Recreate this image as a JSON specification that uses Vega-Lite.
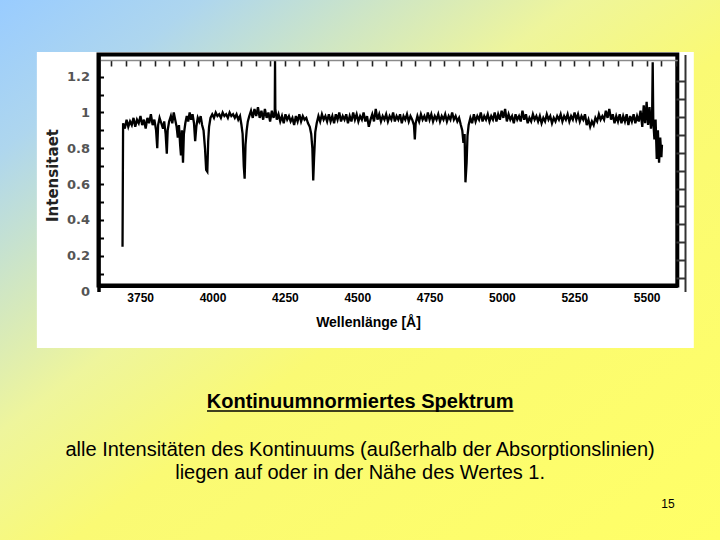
{
  "$schema": "https://vega.github.io/schema/vega-lite/v6.json",
  "width": 720,
  "height": 540,
  "padding": 0,
  "autosize": "none",
  "background": "#ffff66",
  "config": {"view": {"stroke": null}},
  "resolve": {"axis": {"x": "independent", "y": "independent"}},
  "layer": [
    {
      "data": {"values": [{}]},
      "mark": {"type": "rect", "strokeWidth": 0, "fill": {"gradient": "linear", "x1": 0, "y1": 0, "x2": 1, "y2": 1, "stops": [
        {"offset": 0, "color": "#99ccff"},
        {"offset": 0.14, "color": "#aed6ee"},
        {"offset": 0.27, "color": "#cfe6c4"},
        {"offset": 0.4, "color": "#eef59c"},
        {"offset": 0.55, "color": "#fafa74"},
        {"offset": 1, "color": "#ffff66"}
      ]}},
      "encoding": {
        "x": {"value": 0}, "x2": {"value": "width"},
        "y": {"value": 0}, "y2": {"value": "height"}
      }
    },
    {
      "data": {"values": [{}]},
      "mark": {"type": "rect", "fill": "#ffffff", "strokeWidth": 0},
      "encoding": {
        "x": {"datum": 3393, "type": "quantitative", "axis": null, "scale": {"domain": [3606, 5606], "range": [98.5, 677.3], "nice": false, "zero": false}},
        "x2": {"datum": 5663},
        "y": {"datum": 1.338, "type": "quantitative", "axis": null, "scale": {"domain": [0, 1.324], "range": [291.5, 54.5], "nice": false, "zero": false}},
        "y2": {"datum": -0.316}
      }
    },
    {
      "data": {"values": [{}]},
      "mark": {"type": "rect", "filled": false, "stroke": "#000000", "strokeWidth": 4},
      "encoding": {
        "x": {"datum": 3606, "type": "quantitative", "scale": {"domain": [3606, 5606], "range": [98.5, 677.3], "nice": false, "zero": false},
          "axis": {"orient": "top", "offset": -60, "zindex": 1, "title": null, "labels": false,
            "values": [3650,3700,3750,3800,3850,3900,3950,4000,4050,4100,4150,4200,4250,4300,4350,4400,4450,4500,4550,4600,4650,4700,4750,4800,4850,4900,4950,5000,5050,5100,5150,5200,5250,5300,5350,5400,5450,5500,5550,5600],
            "domainColor": "#8a8a8a", "domainWidth": 1.5, "tickColor": "#222222", "tickWidth": 1.6, "tickSize": -6}},
        "x2": {"datum": 5606},
        "y": {"datum": 0.0335, "type": "quantitative", "scale": {"domain": [0, 1.324], "range": [291.5, 54.5], "nice": false, "zero": false},
          "axis": {"orient": "right", "offset": -35, "zindex": 1, "title": null, "labels": false,
            "values": [0.075,0.175,0.275,0.375,0.475,0.575,0.675,0.775,0.875,0.975,1.075,1.175],
            "domainColor": "#333333", "domainWidth": 2, "tickColor": "#333333", "tickWidth": 2, "tickSize": -9}},
        "y2": {"datum": 1.324}
      }
    },
    {
      "data": {"values": [
        {"w":3689,"f":0.25},{"w":3691,"f":0.94},{"w":3697,"f":0.91},{"w":3703,"f":0.96},{"w":3709,"f":0.92},{"w":3715,"f":0.95},
        {"w":3721,"f":0.93},{"w":3727,"f":0.97},{"w":3733,"f":0.92},{"w":3739,"f":0.96},{"w":3745,"f":0.94},{"w":3751,"f":0.98},
        {"w":3757,"f":0.93},{"w":3763,"f":0.96},{"w":3769,"f":0.91},{"w":3775,"f":0.97},{"w":3781,"f":0.94},{"w":3787,"f":0.99},
        {"w":3793,"f":0.93},{"w":3799,"f":0.96},{"w":3805,"f":0.90},{"w":3809,"f":0.80},{"w":3812,"f":0.93},{"w":3817,"f":0.97},
        {"w":3823,"f":0.94},{"w":3829,"f":0.91},{"w":3833,"f":0.95},{"w":3838,"f":0.88},{"w":3842,"f":0.77},{"w":3845,"f":0.90},
        {"w":3850,"f":0.95},{"w":3856,"f":0.98},{"w":3861,"f":0.94},{"w":3866,"f":1.00},{"w":3871,"f":0.96},{"w":3876,"f":0.92},
        {"w":3880,"f":0.86},{"w":3884,"f":0.93},{"w":3888,"f":0.82},{"w":3891,"f":0.76},{"w":3894,"f":0.90},{"w":3898,"f":0.72},
        {"w":3901,"f":0.88},{"w":3906,"f":0.94},{"w":3911,"f":0.98},{"w":3916,"f":0.95},{"w":3921,"f":1.00},{"w":3926,"f":0.96},
        {"w":3931,"f":0.99},{"w":3936,"f":0.94},{"w":3940,"f":0.84},{"w":3944,"f":0.92},{"w":3949,"f":0.97},{"w":3954,"f":0.95},
        {"w":3959,"f":0.98},{"w":3964,"f":0.93},{"w":3969,"f":0.90},{"w":3974,"f":0.80},{"w":3978,"f":0.68},{"w":3982,"f":0.67},
        {"w":3985,"f":0.84},{"w":3988,"f":0.92},{"w":3993,"f":0.97},{"w":3999,"f":0.99},{"w":4005,"f":0.97},{"w":4011,"f":1.00},
        {"w":4017,"f":0.98},{"w":4023,"f":0.99},{"w":4029,"f":0.97},{"w":4035,"f":1.00},{"w":4041,"f":0.98},{"w":4047,"f":0.99},
        {"w":4053,"f":0.97},{"w":4059,"f":1.00},{"w":4065,"f":0.98},{"w":4071,"f":0.99},{"w":4077,"f":0.97},{"w":4083,"f":0.99},
        {"w":4089,"f":0.96},{"w":4095,"f":0.98},{"w":4100,"f":0.93},{"w":4104,"f":0.88},{"w":4108,"f":0.70},{"w":4111,"f":0.63},
        {"w":4114,"f":0.82},{"w":4118,"f":0.90},{"w":4122,"f":0.95},{"w":4127,"f":0.98},{"w":4133,"f":1.01},{"w":4139,"f":0.97},
        {"w":4145,"f":1.02},{"w":4151,"f":0.98},{"w":4157,"f":1.03},{"w":4163,"f":0.97},{"w":4169,"f":1.01},{"w":4175,"f":0.96},
        {"w":4181,"f":1.02},{"w":4187,"f":0.97},{"w":4193,"f":1.00},{"w":4199,"f":0.95},{"w":4205,"f":1.01},{"w":4211,"f":0.97},
        {"w":4215,"f":1.00},{"w":4216,"f":1.29},{"w":4217,"f":1.02},{"w":4222,"f":0.96},{"w":4228,"f":0.99},{"w":4234,"f":0.95},
        {"w":4240,"f":0.98},{"w":4246,"f":0.94},{"w":4252,"f":0.99},{"w":4258,"f":0.96},{"w":4264,"f":0.98},{"w":4270,"f":0.95},
        {"w":4276,"f":0.97},{"w":4282,"f":0.93},{"w":4288,"f":0.98},{"w":4294,"f":0.95},{"w":4300,"f":0.99},{"w":4306,"f":0.95},
        {"w":4312,"f":0.98},{"w":4318,"f":0.96},{"w":4324,"f":0.97},{"w":4330,"f":0.94},{"w":4336,"f":0.92},{"w":4341,"f":0.88},
        {"w":4345,"f":0.80},{"w":4348,"f":0.62},{"w":4351,"f":0.75},{"w":4355,"f":0.89},{"w":4360,"f":0.94},{"w":4366,"f":0.98},
        {"w":4372,"f":0.95},{"w":4378,"f":0.99},{"w":4384,"f":0.96},{"w":4390,"f":0.98},{"w":4396,"f":0.95},{"w":4402,"f":0.99},
        {"w":4408,"f":0.95},{"w":4414,"f":0.98},{"w":4420,"f":0.94},{"w":4426,"f":0.99},{"w":4432,"f":0.96},{"w":4438,"f":1.00},
        {"w":4444,"f":0.95},{"w":4450,"f":0.98},{"w":4456,"f":0.96},{"w":4462,"f":0.99},{"w":4468,"f":0.94},{"w":4474,"f":0.98},
        {"w":4480,"f":0.95},{"w":4486,"f":1.00},{"w":4492,"f":0.96},{"w":4498,"f":0.99},{"w":4504,"f":0.95},{"w":4510,"f":0.98},
        {"w":4516,"f":0.96},{"w":4522,"f":1.00},{"w":4528,"f":0.95},{"w":4534,"f":0.98},{"w":4540,"f":0.92},{"w":4546,"f":0.96},
        {"w":4552,"f":0.99},{"w":4558,"f":0.95},{"w":4564,"f":1.02},{"w":4570,"f":0.96},{"w":4576,"f":0.99},{"w":4582,"f":0.95},
        {"w":4588,"f":0.98},{"w":4594,"f":0.96},{"w":4600,"f":0.99},{"w":4606,"f":0.95},{"w":4612,"f":0.98},{"w":4618,"f":0.96},
        {"w":4624,"f":1.00},{"w":4630,"f":0.95},{"w":4636,"f":0.98},{"w":4642,"f":0.96},{"w":4648,"f":0.99},{"w":4654,"f":0.94},
        {"w":4660,"f":0.98},{"w":4666,"f":0.96},{"w":4672,"f":0.99},{"w":4678,"f":0.95},{"w":4684,"f":0.98},{"w":4690,"f":0.96},
        {"w":4696,"f":0.93},{"w":4699,"f":0.85},{"w":4702,"f":0.94},{"w":4708,"f":0.98},{"w":4714,"f":0.95},{"w":4720,"f":0.99},
        {"w":4726,"f":0.96},{"w":4732,"f":0.98},{"w":4738,"f":0.95},{"w":4744,"f":1.00},{"w":4750,"f":0.96},{"w":4756,"f":0.99},
        {"w":4762,"f":0.95},{"w":4768,"f":0.98},{"w":4774,"f":0.96},{"w":4780,"f":0.99},{"w":4786,"f":0.95},{"w":4792,"f":0.98},
        {"w":4798,"f":0.96},{"w":4804,"f":0.99},{"w":4810,"f":0.95},{"w":4816,"f":0.98},{"w":4822,"f":0.96},{"w":4828,"f":1.00},
        {"w":4834,"f":0.96},{"w":4840,"f":0.98},{"w":4846,"f":0.95},{"w":4852,"f":0.97},{"w":4858,"f":0.93},{"w":4863,"f":0.90},
        {"w":4867,"f":0.83},{"w":4871,"f":0.88},{"w":4874,"f":0.61},{"w":4878,"f":0.72},{"w":4881,"f":0.87},{"w":4885,"f":0.93},
        {"w":4891,"f":0.97},{"w":4897,"f":0.94},{"w":4903,"f":0.99},{"w":4909,"f":0.95},{"w":4915,"f":0.98},{"w":4921,"f":0.96},
        {"w":4927,"f":1.00},{"w":4933,"f":0.95},{"w":4939,"f":0.98},{"w":4945,"f":0.96},{"w":4951,"f":0.99},{"w":4957,"f":0.95},
        {"w":4963,"f":0.98},{"w":4969,"f":0.96},{"w":4975,"f":1.00},{"w":4981,"f":0.95},{"w":4987,"f":0.99},{"w":4993,"f":0.96},
        {"w":4999,"f":1.01},{"w":5005,"f":0.97},{"w":5011,"f":1.02},{"w":5017,"f":0.95},{"w":5023,"f":0.99},{"w":5029,"f":0.96},
        {"w":5035,"f":0.98},{"w":5041,"f":0.94},{"w":5047,"f":0.99},{"w":5053,"f":0.96},{"w":5059,"f":0.98},{"w":5065,"f":0.95},
        {"w":5071,"f":1.01},{"w":5077,"f":0.96},{"w":5083,"f":0.99},{"w":5089,"f":0.94},{"w":5095,"f":0.97},{"w":5101,"f":0.95},
        {"w":5107,"f":0.99},{"w":5113,"f":0.96},{"w":5119,"f":0.98},{"w":5125,"f":0.95},{"w":5131,"f":0.98},{"w":5137,"f":0.94},
        {"w":5143,"f":0.97},{"w":5149,"f":0.95},{"w":5155,"f":0.99},{"w":5161,"f":0.96},{"w":5167,"f":0.98},{"w":5173,"f":0.94},
        {"w":5179,"f":0.97},{"w":5185,"f":0.95},{"w":5191,"f":0.98},{"w":5197,"f":0.96},{"w":5203,"f":0.99},{"w":5209,"f":0.95},
        {"w":5215,"f":0.98},{"w":5221,"f":0.96},{"w":5227,"f":0.99},{"w":5233,"f":0.95},{"w":5239,"f":0.98},{"w":5245,"f":0.96},
        {"w":5251,"f":1.00},{"w":5257,"f":0.96},{"w":5263,"f":0.99},{"w":5269,"f":0.95},{"w":5275,"f":0.98},{"w":5281,"f":0.96},
        {"w":5287,"f":0.99},{"w":5293,"f":0.93},{"w":5299,"f":0.96},{"w":5305,"f":0.92},{"w":5311,"f":0.95},{"w":5317,"f":0.93},
        {"w":5323,"f":0.97},{"w":5329,"f":0.95},{"w":5335,"f":0.99},{"w":5341,"f":0.96},{"w":5347,"f":0.98},{"w":5353,"f":0.96},
        {"w":5359,"f":1.01},{"w":5365,"f":0.97},{"w":5371,"f":1.02},{"w":5377,"f":0.96},{"w":5383,"f":0.99},{"w":5389,"f":0.94},
        {"w":5395,"f":0.98},{"w":5401,"f":0.95},{"w":5407,"f":0.99},{"w":5413,"f":0.94},{"w":5419,"f":0.98},{"w":5425,"f":0.95},
        {"w":5431,"f":0.99},{"w":5437,"f":0.93},{"w":5443,"f":0.98},{"w":5449,"f":0.95},{"w":5455,"f":0.99},{"w":5461,"f":0.94},
        {"w":5467,"f":0.98},{"w":5473,"f":0.95},{"w":5479,"f":1.01},{"w":5485,"f":0.92},{"w":5490,"f":1.04},{"w":5495,"f":0.94},
        {"w":5500,"f":1.06},{"w":5505,"f":0.93},{"w":5510,"f":1.03},{"w":5515,"f":0.91},{"w":5519,"f":0.98},{"w":5521,"f":1.28},
        {"w":5523,"f":0.95},{"w":5527,"f":0.85},{"w":5531,"f":0.96},{"w":5535,"f":0.74},{"w":5539,"f":0.90},{"w":5543,"f":0.72},
        {"w":5547,"f":0.86},{"w":5551,"f":0.75},{"w":5553,"f":0.82}
      ]},
      "mark": {"type": "line", "color": "#000000", "strokeWidth": 2.3, "interpolate": "linear"},
      "encoding": {
        "x": {"field": "w", "type": "quantitative",
          "scale": {"domain": [3606, 5606], "range": [98.5, 677.3], "nice": false, "zero": false},
          "axis": {"orient": "bottom", "offset": -254.5, "zindex": 1,
            "values": [3750, 4000, 4250, 4500, 4750, 5000, 5250, 5500], "format": "d",
            "domainColor": "#000000", "domainWidth": 4, "ticks": false,
            "labelFont": "Liberation Sans", "labelFontSize": 12, "labelFontWeight": "bold", "labelColor": "#000000",
            "labelPadding": 6.5, "labelFlush": false, "labelOverlap": false,
            "title": "Wellenlänge [Å]", "titleFont": "Liberation Sans", "titleFontSize": 14, "titleFontWeight": "bold", "titleColor": "#000000",
            "titleX": 368, "titleY": 36.5, "titleAlign": "center", "titleBaseline": "middle"}},
        "y": {"field": "f", "type": "quantitative",
          "scale": {"domain": [0, 1.324], "range": [291.5, 54.5], "nice": false, "zero": false},
          "axis": {"orient": "left", "offset": -98.5, "zindex": 1,
            "values": [0, 0.1, 0.2, 0.3, 0.4, 0.5, 0.6, 0.7, 0.8, 0.9, 1.0, 1.1, 1.2],
            "labelExpr": "round(datum.value*10) % 2 == 0 ? format(datum.value, '.1~f') : ''",
            "domainColor": "#000000", "domainWidth": 3.5,
            "tickColor": "#000000", "tickWidth": 2, "tickSize": -5,
            "tickOpacity": {"condition": {"test": "datum.value == 0", "value": 0}, "value": 1},
            "labelFont": "DejaVu Sans", "labelFontSize": 13, "labelFontWeight": "bold", "labelColor": "#555555",
            "labelPadding": 14, "labelFlush": false, "labelOverlap": false,
            "title": "Intensitaet", "titleFont": "DejaVu Sans", "titleFontSize": 15, "titleFontWeight": "bold", "titleColor": "#222222",
            "titleX": -46.5, "titleY": 175, "titleAngle": 270, "titleAlign": "center", "titleBaseline": "middle"}}
      }
    },
    {
      "data": {"values": [{}]},
      "mark": {"type": "text", "text": "Kontinuumnormiertes Spektrum", "font": "Liberation Sans", "fontSize": 20, "fontWeight": "bold", "color": "#000000", "align": "center", "baseline": "middle"},
      "encoding": {
        "x": {"datum": 4510, "type": "quantitative", "axis": null, "scale": {"domain": [3606, 5606], "range": [98.5, 677.3], "nice": false, "zero": false}},
        "y": {"datum": -0.617, "type": "quantitative", "axis": null, "scale": {"domain": [0, 1.324], "range": [291.5, 54.5], "nice": false, "zero": false}}
      }
    },
    {
      "data": {"values": [{}]},
      "mark": {"type": "rule", "color": "#000000", "strokeWidth": 1.5},
      "encoding": {
        "x": {"datum": 3981, "type": "quantitative", "axis": null, "scale": {"domain": [3606, 5606], "range": [98.5, 677.3], "nice": false, "zero": false}},
        "x2": {"datum": 5040},
        "y": {"datum": -0.668, "type": "quantitative", "axis": null, "scale": {"domain": [0, 1.324], "range": [291.5, 54.5], "nice": false, "zero": false}}
      }
    },
    {
      "data": {"values": [{}]},
      "mark": {"type": "text", "text": "alle Intensitäten des Kontinuums (außerhalb der Absorptionslinien)", "font": "Liberation Sans", "fontSize": 20, "color": "#000000", "align": "center", "baseline": "middle"},
      "encoding": {
        "x": {"datum": 4510, "type": "quantitative", "axis": null, "scale": {"domain": [3606, 5606], "range": [98.5, 677.3], "nice": false, "zero": false}},
        "y": {"datum": -0.886, "type": "quantitative", "axis": null, "scale": {"domain": [0, 1.324], "range": [291.5, 54.5], "nice": false, "zero": false}}
      }
    },
    {
      "data": {"values": [{}]},
      "mark": {"type": "text", "text": "liegen auf oder in der Nähe des Wertes 1.", "font": "Liberation Sans", "fontSize": 20, "color": "#000000", "align": "center", "baseline": "middle"},
      "encoding": {
        "x": {"datum": 4510, "type": "quantitative", "axis": null, "scale": {"domain": [3606, 5606], "range": [98.5, 677.3], "nice": false, "zero": false}},
        "y": {"datum": -1.014, "type": "quantitative", "axis": null, "scale": {"domain": [0, 1.324], "range": [291.5, 54.5], "nice": false, "zero": false}}
      }
    },
    {
      "data": {"values": [{}]},
      "mark": {"type": "text", "text": "15", "font": "Liberation Sans", "fontSize": 12, "color": "#000000", "align": "center", "baseline": "middle"},
      "encoding": {
        "x": {"datum": 5574, "type": "quantitative", "axis": null, "scale": {"domain": [3606, 5606], "range": [98.5, 677.3], "nice": false, "zero": false}},
        "y": {"datum": -1.187, "type": "quantitative", "axis": null, "scale": {"domain": [0, 1.324], "range": [291.5, 54.5], "nice": false, "zero": false}}
      }
    }
  ]
}
